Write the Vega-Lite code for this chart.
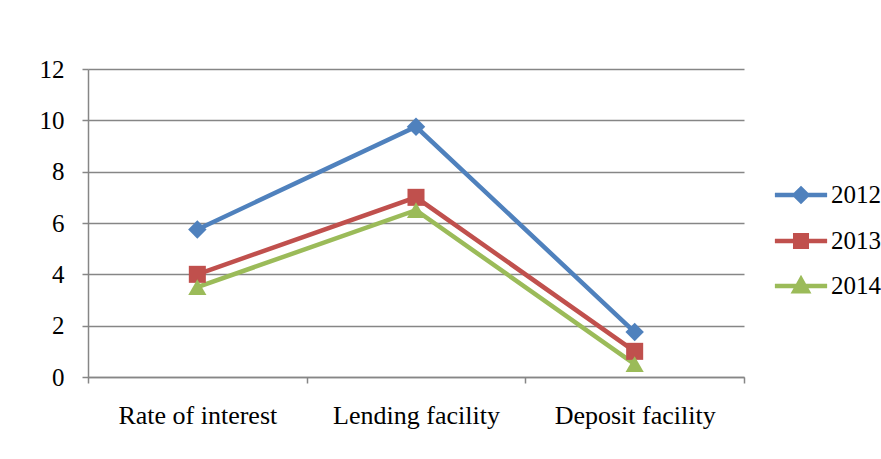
{
  "$schema": "https://vega.github.io/schema/vega-lite/v6.json",
  "width": 656,
  "height": 308,
  "autosize": {"type": "none"},
  "padding": {"left": 88, "top": 69, "right": 137, "bottom": 82},
  "background": "white",
  "config": {
    "view": {"stroke": null},
    "font": "Liberation Serif",
    "axis": {"labelFont": "Liberation Serif", "labelColor": "black", "domainColor": "#868686", "tickColor": "#868686", "gridColor": "#868686", "domainWidth": 1.5, "tickWidth": 1.5, "gridWidth": 1.5},
    "legend": {"labelFont": "Liberation Serif"}
  },
  "data": {
    "values": [
      {"category": "Rate of interest", "year": "2012", "value": 5.75},
      {"category": "Lending facility", "year": "2012", "value": 9.75},
      {"category": "Deposit facility", "year": "2012", "value": 1.75},
      {"category": "Rate of interest", "year": "2013", "value": 4},
      {"category": "Lending facility", "year": "2013", "value": 7},
      {"category": "Deposit facility", "year": "2013", "value": 1},
      {"category": "Rate of interest", "year": "2014", "value": 3.5},
      {"category": "Lending facility", "year": "2014", "value": 6.5},
      {"category": "Deposit facility", "year": "2014", "value": 0.5}
    ]
  },
  "encoding": {
    "x": {
      "field": "category", "type": "nominal", "sort": null,
      "scale": {"paddingInner": 0, "paddingOuter": 0},
      "axis": {"title": null, "labelAngle": 0, "labelFontSize": 26, "tickSize": 6, "tickBand": "extent", "labelPadding": 19, "grid": false}
    },
    "y": {
      "field": "value", "type": "quantitative",
      "scale": {"domain": [0, 12], "nice": false},
      "axis": {"title": null, "values": [0, 2, 4, 6, 8, 10, 12], "labelFontSize": 25, "tickSize": 6, "labelPadding": 18, "grid": true}
    },
    "color": {
      "field": "year", "type": "nominal",
      "scale": {"domain": ["2012", "2013", "2014"], "range": ["#4F81BD", "#C0504D", "#9BBB59"]},
      "legend": {
        "title": null, "orient": "none", "legendX": 697, "legendY": 110, "padding": 0,
        "labelFontSize": 25, "labelOffset": 14, "rowPadding": 14, "symbolSize": 756, "symbolStrokeWidth": 4.5,
        "encode": {
          "symbols": {
            "update": {
              "shape": {"signal": "datum.value == '2012' ? 'M-1.9,0H1.9M0,-0.45L0.45,0L0,0.45L-0.45,0Z' : datum.value == '2013' ? 'M-1.9,0H1.9M-0.42,-0.42H0.42V0.42H-0.42Z' : 'M-1.9,0H1.9M-0.48,0.38L0,-0.48L0.48,0.38Z'"},
              "fill": {"signal": "scale('color', datum.value)"},
              "stroke": {"signal": "scale('color', datum.value)"},
              "strokeWidth": {"value": 4.5},
              "size": {"value": 756},
              "opacity": {"value": 1}
            }
          }
        }
      }
    }
  },
  "layer": [
    {"mark": {"type": "line", "strokeWidth": 4.5}},
    {
      "transform": [{"filter": "datum.year == '2012'"}],
      "mark": {"type": "point", "filled": true, "opacity": 1, "shape": "diamond", "size": 340}
    },
    {
      "transform": [{"filter": "datum.year == '2013'"}],
      "mark": {"type": "point", "filled": true, "opacity": 1, "shape": "square", "size": 290}
    },
    {
      "transform": [{"filter": "datum.year == '2014'"}],
      "mark": {"type": "point", "filled": true, "opacity": 1, "shape": "triangle-up", "size": 330}
    }
  ]
}
